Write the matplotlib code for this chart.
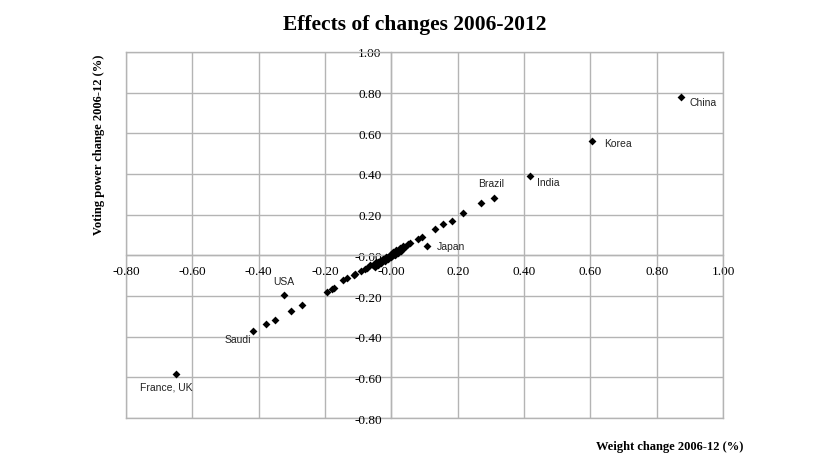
import numpy as np
import matplotlib.pyplot as plt

# weight change vs voting power change, 2006-2012 (%)
weight_change = [
    0.874, 0.605, 0.419, 0.310, 0.269, 0.215, 0.182, 0.155, 0.132, 0.107,
    0.093, 0.079, 0.057, 0.049, 0.042, 0.036, 0.030, 0.026, 0.022, 0.018,
    0.015, 0.012, 0.010, 0.008, 0.006, 0.004, 0.003, 0.002, 0.001, 0.000,
    -0.001, -0.002, -0.003, -0.004, -0.005, -0.006, -0.008, -0.010, -0.012,
    -0.014, -0.016, -0.018, -0.020, -0.023, -0.026, -0.029, -0.032, -0.036,
    -0.040, -0.044, -0.049, -0.056, -0.063, -0.073, -0.080, -0.093, -0.111,
    -0.114, -0.133, -0.147, -0.174, -0.179, -0.194, -0.269, -0.304, -0.325,
    -0.352, -0.378, -0.417, -0.650,
    0.035, 0.025, 0.015, 0.005, -0.005, -0.015, -0.025, -0.035, -0.045,
    0.030, 0.020, 0.010, 0.000, -0.010, -0.020, -0.030, -0.040, -0.050,
]
vp_change = [
    0.780, 0.562, 0.390, 0.283, 0.257, 0.206, 0.169, 0.152, 0.129, 0.048,
    0.088, 0.080, 0.062, 0.056, 0.040, 0.035, 0.028, 0.024, 0.019, 0.016,
    0.013, 0.010, 0.008, 0.006, 0.005, 0.003, 0.002, 0.001, 0.001, 0.000,
    -0.001, -0.002, -0.003, -0.004, -0.005, -0.006, -0.007, -0.009, -0.011,
    -0.012, -0.014, -0.016, -0.018, -0.020, -0.022, -0.025, -0.027, -0.031,
    -0.034, -0.037, -0.041, -0.046, -0.050, -0.060, -0.066, -0.077, -0.093,
    -0.095, -0.110, -0.121, -0.162, -0.165, -0.178, -0.242, -0.272, -0.197,
    -0.318, -0.339, -0.372, -0.581,
    0.045, 0.035, 0.024, 0.014, 0.004, -0.006, -0.016, -0.026, -0.032,
    0.020, 0.010, 0.000, -0.010, -0.020, -0.030, -0.038, -0.048, -0.058,
]

# labelled countries and label offsets (px)
labels = ["China", "Korea", "India", "Brazil", "Japan", "USA", "Saudi", "France, UK"]
label_x = [0.874, 0.605, 0.419, 0.310, 0.107, -0.325, -0.417, -0.650]
label_y = [0.780, 0.562, 0.390, 0.283, 0.048, -0.197, -0.372, -0.581]
offsets = [(8, -5), (12, -2), (7, -6), (-16, 15), (10, 0), (-10, 14), (-28, -8), (-36, -13)]

ticks_x = np.arange(-0.8, 1.01, 0.2)
ticks_y = np.arange(-0.8, 1.01, 0.2)

fig = plt.figure(figsize=(8.18, 4.6), dpi=100)
ax = fig.add_axes([0.154, 0.089, 0.730, 0.796])

grid_col = "#b4b4b4"
ax.scatter(weight_change, vp_change, marker="D", s=16, color="black", zorder=3, linewidths=0)

ax.set_xlim(-0.8, 1.0)
ax.set_ylim(-0.8, 1.0)
ax.set_xticks(ticks_x)
ax.set_yticks(ticks_y)
ax.set_xticklabels(["%.2f" % v for v in ticks_x])
ax.set_yticklabels(["%.2f" % v for v in ticks_y])
ax.grid(True, color=grid_col, linewidth=1.0, zorder=0)
ax.set_axisbelow(True)
# outer frame on the left / bottom (the spines sit at zero)
ax.axhline(-0.8, color=grid_col, linewidth=1.0, clip_on=False, zorder=0)
ax.axvline(-0.8, color=grid_col, linewidth=1.0, clip_on=False, zorder=0)

ax.spines["left"].set_position(("data", 0))
ax.spines["bottom"].set_position(("data", 0))
for sp in ax.spines.values():
    sp.set_color(grid_col)
    sp.set_linewidth(1.0)
ax.tick_params(length=0, labelsize=9.5, pad=7)
for lab in ax.get_xticklabels() + ax.get_yticklabels():
    lab.set_family("Liberation Serif")

for name, x, y, off in zip(labels, label_x, label_y, offsets):
    ax.annotate(name, (x, y), xytext=off, textcoords="offset pixels",
                fontsize=7.5, family="Liberation Sans", color="#222222",
                ha="left", va="center")

fig.text(415 / 818, 1 - 25 / 460, "Effects of changes 2006-2012", ha="center", va="center",
         fontsize=15.5, fontweight="bold", family="Liberation Serif")
fig.text(670 / 818, 1 - 447 / 460, "Weight change 2006-12 (%)", ha="center", va="center",
         fontsize=9, fontweight="bold", family="Liberation Serif")
fig.text(99 / 818, 1 - 145 / 460, "Voting power change 2006-12 (%)", ha="center", va="center",
         rotation=90, fontsize=9, fontweight="bold", family="Liberation Serif")

fig.savefig("out.png", dpi=100)
